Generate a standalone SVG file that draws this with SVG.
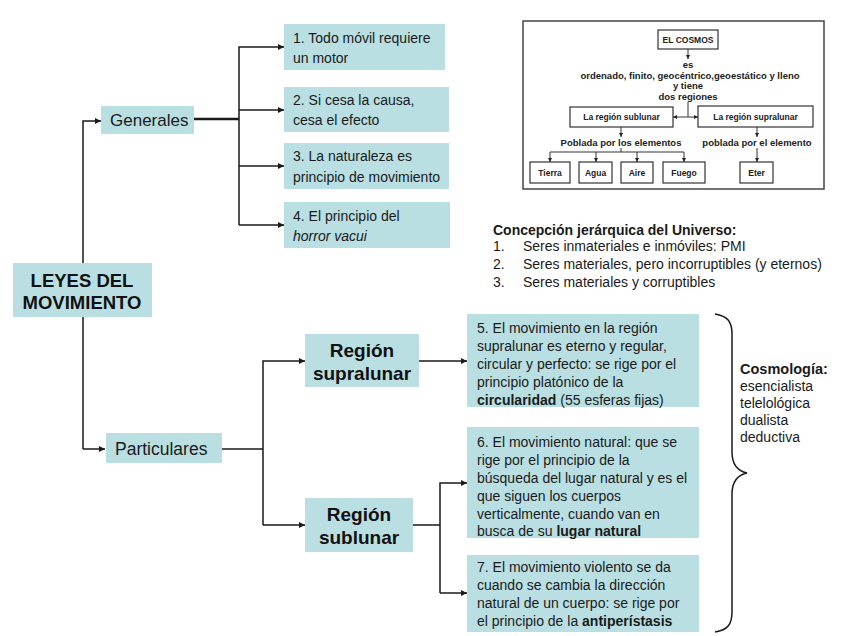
<svg xmlns="http://www.w3.org/2000/svg" width="848" height="636" viewBox="0 0 848 636">
<defs>
<marker id="ar" viewBox="0 0 10 10" refX="10" refY="5" markerWidth="6" markerHeight="6" markerUnits="userSpaceOnUse" orient="auto"><path d="M0,0 L10,5 L0,10 z" fill="#1a1a1a"/></marker>
<marker id="ars" viewBox="0 0 10 10" refX="10" refY="5" markerWidth="4" markerHeight="4" markerUnits="userSpaceOnUse" orient="auto"><path d="M0,0 L10,5 L0,10 z" fill="#222"/></marker>
<style>
.box{fill:#b9dfe2;}
.t{font-family:"Liberation Sans",Arial,sans-serif;font-size:14px;fill:#1a1a1a;}
.tb{font-family:"Liberation Sans",Arial,sans-serif;font-weight:bold;fill:#111;}
.ln{fill:none;stroke:#1a1a1a;stroke-width:1.5;}
.c{font-family:"Liberation Sans",Arial,sans-serif;font-weight:bold;font-size:8.5px;fill:#222;text-anchor:middle;}
.cm{font-family:"Liberation Sans",Arial,sans-serif;font-weight:bold;font-size:9.5px;fill:#222;text-anchor:middle;}
.cb{fill:#fff;stroke:#333;stroke-width:1.2;}
.cl{fill:none;stroke:#333;stroke-width:1;}
</style>
</defs>
<rect width="848" height="636" fill="#fff"/>

<g id="connectors">
<path class="ln" d="M83,449 L83,121 L101,121" marker-end="url(#ar)"/>
<path class="ln" d="M83,449 L105,449" marker-end="url(#ar)"/>
<path d="M194,119 L239,119" stroke="#1a1a1a" stroke-width="2.5" fill="none"/>
<path class="ln" d="M239,225 L239,47 L284,47" marker-end="url(#ar)"/>
<path class="ln" d="M239,110 L284,110" marker-end="url(#ar)"/>
<path class="ln" d="M239,166 L284,166" marker-end="url(#ar)"/>
<path class="ln" d="M239,225 L284,225" marker-end="url(#ar)"/>
<path class="ln" d="M222,449 L263,449"/>
<path class="ln" d="M263,525 L263,361 L305,361" marker-end="url(#ar)"/>
<path class="ln" d="M263,525 L305,525" marker-end="url(#ar)"/>
<path class="ln" d="M419,361 L467,361" marker-end="url(#ar)"/>
<path class="ln" d="M413,525 L440,525"/>
<path class="ln" d="M440,593 L440,483 L467,483" marker-end="url(#ar)"/>
<path class="ln" d="M440,593 L467,593" marker-end="url(#ar)"/>
<path class="ln" d="M715,314 C728,316 732,322 732,334 L732,452 C732,465 738,471 747,473 C738,475 732,481 732,494 L732,612 C732,624 728,630 715,632"/>
</g>

<g id="leyes"><rect class="box" x="13" y="263" width="139" height="54"/>
<text class="tb" style="font-size:18.5px" text-anchor="middle"><tspan x="82" y="287">LEYES DEL</tspan><tspan x="82" y="309">MOVIMIENTO</tspan></text></g>

<g id="generales"><rect class="box" x="101" y="106" width="93" height="28"/>
<text class="t" style="font-size:17px" x="110" y="126">Generales</text></g>

<g id="particulares"><rect class="box" x="106" y="433" width="116" height="30"/>
<text class="t" style="font-size:17.5px" x="115" y="455">Particulares</text></g>

<g id="n1"><rect class="box" x="284" y="24" width="161" height="46"/>
<text class="t"><tspan x="293" y="43">1. Todo móvil requiere</tspan><tspan x="293" y="63">un motor</tspan></text></g>
<g id="n2"><rect class="box" x="284" y="87" width="165" height="45"/>
<text class="t"><tspan x="293" y="105">2. Si cesa la causa,</tspan><tspan x="293" y="125">cesa el efecto</tspan></text></g>
<g id="n3"><rect class="box" x="284" y="143" width="165" height="46"/>
<text class="t"><tspan x="293" y="161">3. La naturaleza es</tspan><tspan x="293" y="182">principio de movimiento</tspan></text></g>
<g id="n4"><rect class="box" x="284" y="202" width="166" height="46"/>
<text class="t"><tspan x="293" y="221">4. El principio del</tspan><tspan x="293" y="241" font-style="italic">horror vacui</tspan></text></g>

<g id="supra"><rect class="box" x="305" y="334" width="114" height="53"/>
<text class="tb" style="font-size:19px" text-anchor="middle"><tspan x="362" y="357">Región</tspan><tspan x="362" y="380">supralunar</tspan></text></g>
<g id="sub"><rect class="box" x="305" y="498" width="108" height="54"/>
<text class="tb" style="font-size:19px" text-anchor="middle"><tspan x="359" y="521">Región</tspan><tspan x="359" y="544">sublunar</tspan></text></g>

<g id="n5"><rect class="box" x="467" y="314" width="232" height="93"/>
<text class="t"><tspan x="477" y="333">5. El movimiento en la región</tspan><tspan x="477" y="351">supralunar es eterno y regular,</tspan><tspan x="477" y="369">circular y perfecto: se rige por el</tspan><tspan x="477" y="387">principio platónico de la</tspan><tspan x="477" y="405"><tspan font-weight="bold">circularidad</tspan> (55 esferas fijas)</tspan></text></g>
<g id="n6"><rect class="box" x="467" y="427" width="232" height="111"/>
<text class="t"><tspan x="477" y="447">6. El movimiento natural: que se</tspan><tspan x="477" y="465">rige por el principio de la</tspan><tspan x="477" y="483">búsqueda del lugar natural y es el</tspan><tspan x="477" y="501">que siguen los cuerpos</tspan><tspan x="477" y="519">verticalmente, cuando van en</tspan><tspan x="477" y="536">busca de su <tspan font-weight="bold">lugar natural</tspan></tspan></text></g>
<g id="n7"><rect class="box" x="467" y="555" width="232" height="77"/>
<text class="t"><tspan x="477" y="572">7. El movimiento violento se da</tspan><tspan x="477" y="590">cuando se cambia la dirección</tspan><tspan x="477" y="608">natural de un cuerpo: se rige por</tspan><tspan x="477" y="626">el principio de la <tspan font-weight="bold">antiperístasis</tspan></tspan></text></g>

<g id="cosmologia"><text class="t"><tspan x="740" y="374" font-weight="bold" style="font-size:14.5px">Cosmología:</tspan><tspan x="740" y="391">esencialista</tspan><tspan x="740" y="408">telelológica</tspan><tspan x="740" y="425">dualista</tspan><tspan x="740" y="442">deductiva</tspan></text></g>

<g id="concepcion"><text class="t"><tspan x="493" y="235" font-weight="bold">Concepción jerárquica del Universo:</tspan><tspan x="493" y="251">1.</tspan><tspan x="523" y="251">Seres inmateriales e inmóviles: PMI</tspan><tspan x="493" y="269">2.</tspan><tspan x="523" y="269">Seres materiales, pero incorruptibles (y eternos)</tspan><tspan x="493" y="287">3.</tspan><tspan x="523" y="287">Seres materiales y corruptibles</tspan></text></g>

<g id="cosmos">
<rect x="523" y="21" width="301" height="168" fill="#fff" stroke="#444" stroke-width="1.5"/>
<rect class="cb" x="658" y="30" width="60" height="19"/>
<text class="c" x="688" y="43">EL COSMOS</text>
<path class="cl" d="M688,49 L688,59" marker-end="url(#ars)"/>
<text class="cm" x="688" y="68">es</text>
<text class="cm" x="690" y="79">ordenado, finito, geocéntrico,geoestático y lleno</text>
<text class="cm" x="688" y="89">y tiene</text>
<text class="cm" x="688" y="100">dos regiones</text>
<path class="cl" d="M688,102 L688,117"/>
<path class="cl" d="M688,117 L673,117" marker-end="url(#ars)"/>
<path class="cl" d="M688,117 L698,117" marker-end="url(#ars)"/>
<rect class="cb" x="570" y="107" width="103" height="20"/>
<text class="c" x="621.5" y="120">La región sublunar</text>
<rect class="cb" x="698" y="106" width="115" height="21"/>
<text class="c" x="755.5" y="120">La región supralunar</text>
<path class="cl" d="M621,127 L621,137" marker-end="url(#ars)"/>
<text class="cm" x="621" y="146">Poblada por los elementos</text>
<path class="cl" d="M621,148 L621,152 M550,152 L684,152"/>
<path class="cl" d="M550,152 L550,162" marker-end="url(#ars)"/>
<path class="cl" d="M596,152 L596,162" marker-end="url(#ars)"/>
<path class="cl" d="M637,152 L637,162" marker-end="url(#ars)"/>
<path class="cl" d="M684,152 L684,162" marker-end="url(#ars)"/>
<path class="cl" d="M757,127 L757,137" marker-end="url(#ars)"/>
<text class="cm" x="757" y="146">poblada por el elemento</text>
<path class="cl" d="M757,148 L757,162" marker-end="url(#ars)"/>
<rect class="cb" x="530" y="162" width="40" height="21"/>
<text class="c" x="550" y="176">Tierra</text>
<rect class="cb" x="579" y="162" width="33" height="21"/>
<text class="c" x="595.5" y="176">Agua</text>
<rect class="cb" x="621" y="162" width="32" height="21"/>
<text class="c" x="637" y="176">Aire</text>
<rect class="cb" x="663" y="162" width="42" height="21"/>
<text class="c" x="684" y="176">Fuego</text>
<rect class="cb" x="740" y="162" width="33" height="21"/>
<text class="c" x="756.5" y="176">Eter</text>
</g>
</svg>
